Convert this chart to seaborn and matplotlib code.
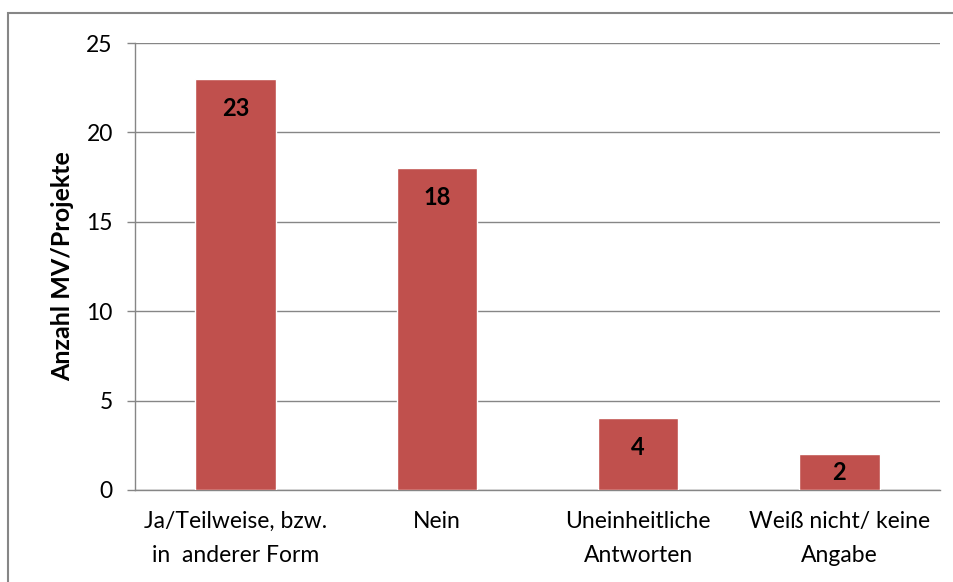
import matplotlib
matplotlib.use("Agg")
import matplotlib.pyplot as plt
import seaborn as sns
import pandas as pd
from matplotlib.patches import Rectangle

categories = ["Ja/Teilweise, bzw.\nin  anderer Form", "Nein",
              "Uneinheitliche\nAntworten", "Weiß nicht/ keine\nAngabe"]
values = [23, 18, 4, 2]
y_ticks = [0, 5, 10, 15, 20, 25]
y_label = "Anzahl MV/Projekte"

sns.set_theme(style="white")
plt.rcParams["font.family"] = ["Lato", "DejaVu Sans"]

grid_col = "#868686"
bar_col = "#C0504D"

fig = plt.figure(figsize=(9.54, 5.82), dpi=100)
ax = fig.add_axes([135 / 954, 1 - 490 / 582, (940 - 135) / 954, (490 - 43) / 582])

df = pd.DataFrame({"cat": categories, "val": values})
sns.barplot(data=df, x="cat", y="val", color=bar_col, width=0.4,
            saturation=1, ax=ax, zorder=3)

ax.set_xlim(-0.5, len(categories) - 0.5)
ax.set_ylim(0, 25)
ax.set_yticks(y_ticks)
ax.set_yticklabels([str(t) for t in y_ticks], fontsize=16.5, color="black")
ax.yaxis.grid(True, color=grid_col, linewidth=1, zorder=0)
ax.set_axisbelow(True)

ax.set_xticks(range(len(categories)))
ax.set_xticklabels(categories, fontsize=16.5, color="black", linespacing=1.75)
ax.set_xticks([i - 0.5 for i in range(len(categories) + 1)], minor=True)
ax.tick_params(axis="x", which="major", length=0, pad=15)
ax.tick_params(axis="x", which="minor", length=5, width=1, color=grid_col, direction="out")
ax.tick_params(axis="y", length=6, width=1, color=grid_col, direction="out", left=True, pad=10)

for side in ("top", "right"):
    ax.spines[side].set_visible(False)
for side in ("left", "bottom"):
    ax.spines[side].set_color(grid_col)
    ax.spines[side].set_linewidth(1)

ax.set_xlabel("")
ax.set_ylabel(y_label, fontsize=18, fontweight="bold", color="black", labelpad=9)

# value labels sit just inside the top of each bar; short bars get them centred
for i, v in enumerate(values):
    ax.text(i, v - min(1.65, v / 2), str(v), ha="center", va="center",
            fontsize=17, fontweight="bold", color="black", zorder=4)

fig.patches.append(Rectangle((8 / 954, -0.1), 1.2, 0.1 + 1 - 13 / 582,
                             transform=fig.transFigure, fill=False,
                             edgecolor=grid_col, linewidth=1.5))

fig.savefig("out.png", dpi=100, facecolor="white")
